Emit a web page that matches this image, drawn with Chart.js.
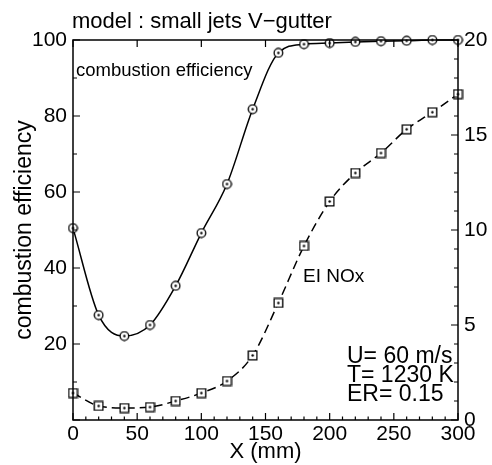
<!DOCTYPE html>
<html>
<head>
<meta charset="utf-8">
<script src="https://cdn.jsdelivr.net/npm/chart.js@4.4.1/dist/chart.umd.min.js"></script>
<style>
  body { margin: 0; background: #ffffff; }
  canvas { display: block; }
</style>
</head>
<body>
<canvas id="chart" width="492" height="465"></canvas>
<script>
// axial position X (mm)
const xPositions = [0, 20, 40, 60, 80, 100, 120, 140, 160, 180, 200, 220, 240, 260, 280, 300];
// combustion efficiency (%) - left axis
const efficiency = [50.5, 27.6, 22.1, 25.0, 35.3, 49.2, 62.1, 81.8, 96.6, 98.9, 99.2, 99.5, 99.7, 99.8, 100, 100];
// EI NOx - right axis
const eiNox = [1.42, 0.74, 0.63, 0.68, 1.0, 1.42, 2.05, 3.4, 6.16, 9.16, 11.5, 13.0, 14.05, 15.3, 16.2, 17.15];

const FONT = "'Liberation Sans', Arial, Helvetica, sans-serif";

// marker images: open circle / open square with a dot in the middle
function makeMarker(kind) {
    const c = document.createElement('canvas');
    c.width = 11;
    c.height = 11;
    const g = c.getContext('2d');
    g.fillStyle = '#fff';
    g.strokeStyle = '#000';
    g.lineWidth = 1.3;
    g.beginPath();
    if (kind === 'circle') {
        g.arc(5.5, 5.5, 4.3, 0, Math.PI * 2);
    } else {
        g.rect(1.2, 1.2, 8.6, 8.6);
    }
    g.fill();
    g.stroke();
    g.fillStyle = '#000';
    g.beginPath();
    g.arc(5.5, 5.5, 1.2, 0, Math.PI * 2);
    g.fill();
    return c;
}

// frame, inward ticks and the text notes
const decorations = {
    id: 'decorations',
    afterDraw(chart) {
        const ctx = chart.ctx;
        const a = chart.chartArea;
        const sx = chart.scales.x, sy = chart.scales.y, sy2 = chart.scales.y2;
        ctx.save();
        ctx.strokeStyle = '#000';
        ctx.lineWidth = 1.5;
        ctx.strokeRect(a.left, a.top, a.right - a.left, a.bottom - a.top);

        ctx.lineWidth = 1.2;
        ctx.beginPath();
        for (let v = 0; v <= 300; v += 10) {
            const px = sx.getPixelForValue(v);
            const len = v % 50 === 0 ? 7 : 3.5;
            ctx.moveTo(px, a.bottom);
            ctx.lineTo(px, a.bottom - len);
            if (v % 50 === 0) {
                ctx.moveTo(px, a.top);
                ctx.lineTo(px, a.top + 7);
            }
        }
        for (let v = 0; v <= 100; v += 10) {
            const py = sy.getPixelForValue(v);
            ctx.moveTo(a.left, py);
            ctx.lineTo(a.left + (v % 20 === 0 ? 7 : 4), py);
        }
        for (let v = 0; v <= 20; v += 1) {
            const py = sy2.getPixelForValue(v);
            ctx.moveTo(a.right, py);
            ctx.lineTo(a.right - (v % 5 === 0 ? 7 : 4), py);
        }
        ctx.stroke();

        ctx.fillStyle = '#000';
        ctx.textBaseline = 'alphabetic';
        ctx.textAlign = 'left';
        ctx.font = '22px ' + FONT;
        ctx.fillText('model : small jets V\u2212gutter', 72, 28);

        ctx.font = '18.5px ' + FONT;
        ctx.textBaseline = 'middle';
        ctx.fillText('combustion efficiency', 76, 71);
        ctx.font = '19px ' + FONT;
        ctx.fillText('EI NOx', 303, 277);

        ctx.font = '23px ' + FONT;
        ctx.fillText('U= 60 m/s', 347, 357);
        ctx.fillText('T= 1230 K', 347, 376);
        ctx.fillText('ER= 0.15', 347, 395);
        ctx.restore();
    }
};

const ctx = document.getElementById('chart').getContext('2d');
new Chart(ctx, {
    type: 'line',
    data: {
        datasets: [
            {
                label: 'combustion efficiency',
                data: xPositions.map((x, i) => ({ x: x, y: efficiency[i] })),
                yAxisID: 'y',
                borderColor: '#000',
                borderWidth: 1.5,
                cubicInterpolationMode: 'monotone',
                pointStyle: makeMarker('circle'),
                clip: false
            },
            {
                label: 'EI NOx',
                data: xPositions.map((x, i) => ({ x: x, y: eiNox[i] })),
                yAxisID: 'y2',
                borderColor: '#000',
                borderWidth: 1.5,
                borderDash: [9, 5],
                cubicInterpolationMode: 'monotone',
                pointStyle: makeMarker('square'),
                clip: false
            }
        ]
    },
    options: {
        responsive: false,
        animation: false,
        devicePixelRatio: 1,
        layout: { padding: { top: 40, left: 0, right: 0, bottom: 0 } },
        plugins: {
            legend: { display: false },
            tooltip: { enabled: false }
        },
        scales: {
            x: {
                type: 'linear',
                position: 'bottom',
                min: 0,
                max: 300,
                grid: { display: false, drawTicks: false },
                border: { display: false },
                ticks: { stepSize: 50, color: '#000', padding: 2, font: { family: FONT, size: 21 } },
                title: { display: true, text: 'X (mm)', color: '#000', padding: { top: 0, bottom: 0 }, font: { family: FONT, size: 22 } },
                afterFit(scale) { scale.height = 45; }
            },
            y: {
                position: 'left',
                min: 0,
                max: 100,
                grid: { display: false, drawTicks: false },
                border: { display: false },
                ticks: {
                    stepSize: 20,
                    color: '#000',
                    padding: 6,
                    font: { family: FONT, size: 21 },
                    callback: v => (v === 0 ? '' : v)
                },
                title: { display: true, text: 'combustion efficiency', color: '#000', padding: { top: 11, bottom: 0 }, font: { family: FONT, size: 23 } },
                afterFit(scale) { scale.width = 73; }
            },
            y2: {
                position: 'right',
                min: 0,
                max: 20,
                grid: { display: false, drawTicks: false },
                border: { display: false },
                ticks: { stepSize: 5, color: '#000', padding: 6, font: { family: FONT, size: 21 } },
                afterFit(scale) { scale.width = 34; }
            }
        }
    },
    plugins: [decorations]
});
</script>
</body>
</html>
